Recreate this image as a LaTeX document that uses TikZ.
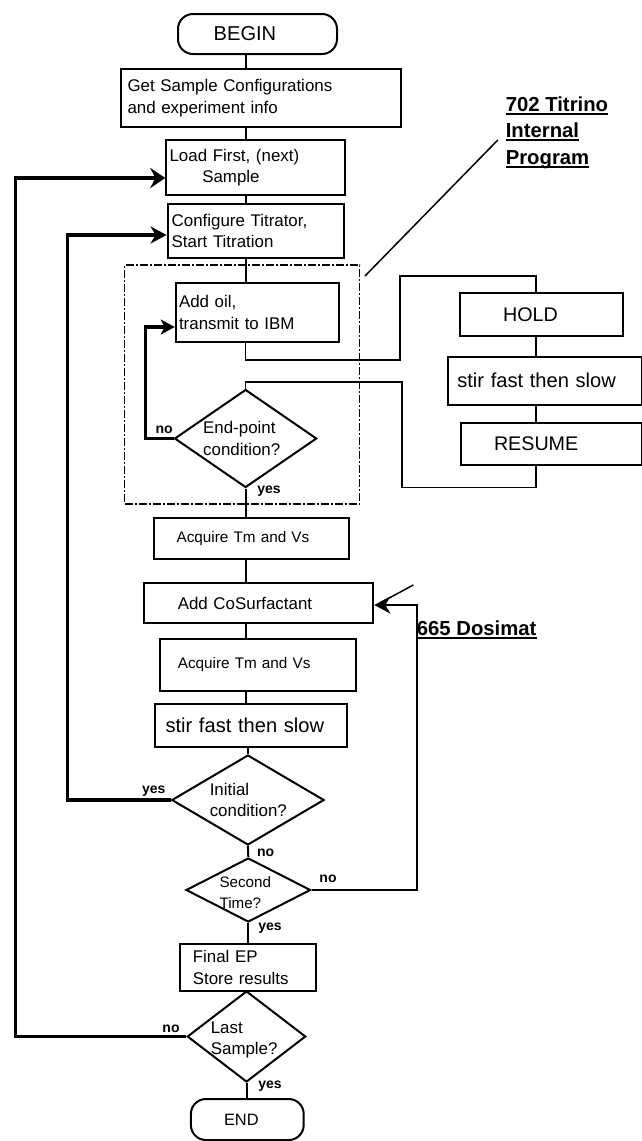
\documentclass[tikz,border=0pt]{standalone}
\usepackage{fontspec}
\setmainfont{Liberation Sans}
\usetikzlibrary{shapes.geometric,arrows.meta}
\newcommand\fmain{\fontsize{16.9}{21.5}\selectfont}
\newcommand\facq{\fontsize{15.3}{19}\selectfont}
\newcommand\fbig{\fontsize{20.1}{24}\selectfont}
\newcommand\frbox{\fontsize{19.7}{24}\selectfont}
\newcommand\fsec{\fontsize{15.2}{21}\selectfont}
\newcommand\fend{\fontsize{16.4}{20}\selectfont}
\newcommand\flab{\bfseries\fontsize{20.3}{24}\selectfont}
\newcommand\fyn{\bfseries\fontsize{14}{16}\selectfont}
\newcommand\ulx[1]{{\setbox0\hbox{#1}\rlap{\rule[-3.6pt]{\wd0}{2pt}}\box0}}
\begin{document}
\begin{tikzpicture}[x=1pt,y=-1pt,
  procbox/.style={draw,line width=2pt,rectangle,inner ysep=0pt,align=left,font=\fmain},
  termbox/.style={draw,line width=2pt,rectangle,rounded corners=15pt,inner ysep=0pt,align=left},
  decision/.style={draw,diamond,line width=2pt,inner sep=0pt},
  dlabel/.style={align=left,font=\fmain,inner sep=0pt},
  flow/.style={line width=2pt},
  thinline/.style={line width=1.6pt},
  loopline/.style={line width=3.2pt},
  ptr/.style={line width=1.5pt},
  yn/.style={font=\fyn,inner sep=0pt},
  grpframe/.style={draw,line width=1.4pt,dash pattern=on 8pt off 2pt on 2pt off 2pt,inner sep=0pt}]
\useasboundingbox (0,0) rectangle (642,1141);

\coordinate (ax) at (245.5,0);
\coordinate (rx) at (536,0);
\coordinate (c1) at (15.1,0);
\coordinate (c2) at (67.4,0);
\coordinate (c3) at (145.1,0);
\coordinate (c4) at (417,0);

% group frame
\node[grpframe,minimum width=234.9pt,minimum height=239pt] (grp) at (242.15,384.5) {};

% main column
\node[termbox,font=\fbig,minimum width=159pt,minimum height=40pt,inner xsep=35.7pt,text width=87.6pt] (begin) at (257.5,34) {BEGIN};
\node[procbox,minimum width=280.3pt,minimum height=58pt,inner xsep=6.9pt,text width=266.5pt] (get) at (260.75,98) {Get Sample Configurations\\and experiment info};
\node[procbox,minimum width=178.2pt,minimum height=55pt,inner xsep=3.3pt,text width=171.6pt] (load) at (255.4,167.5) {Load First, (next)\\\hspace*{32.7pt}Sample};
\node[procbox,minimum width=176.5pt,minimum height=54pt,inner xsep=4.1pt,text width=168.3pt] (conf) at (255.85,231) {Configure Titrator,\\Start Titration};
\node[procbox,minimum width=163.5pt,minimum height=59pt,inner xsep=3.3pt,text width=156.9pt] (addoil) at (257.5,312.5) {Add oil,\\transmit to IBM};
\node[decision,minimum width=142.2pt,minimum height=98pt,
  label={[dlabel,name=endptt,xshift=-3.9pt]center:End-point\\condition?}] (endpt) at (245.6,438.5) {};
\node[procbox,font=\facq,minimum width=195.3pt,minimum height=41pt,inner xsep=22.5pt,text width=150.3pt] (acq1) at (251.75,538.5) {Acquire Tm and Vs};
\node[procbox,minimum width=229pt,minimum height=40.6pt,inner xsep=33.5pt,text width=162pt] (addco) at (258.8,603) {Add CoSurfactant};
\node[procbox,font=\facq,minimum width=195.4pt,minimum height=52pt,inner xsep=17.6pt,text width=160.2pt] (acq2) at (257.9,665) {Acquire Tm and Vs};
\node[procbox,font=\fbig,minimum width=192.1pt,minimum height=43pt,inner xsep=10.2pt,text width=171.7pt] (stir2) at (251.35,725.5) {stir fast then slow};
\node[decision,minimum width=152.4pt,minimum height=90pt,
  label={[dlabel,name=initt,xshift=0.4pt]center:Initial\\condition?}] (init) at (247.9,800) {};
\node[decision,minimum width=124.6pt,minimum height=64pt,
  label={[dlabel,font=\fsec,name=secondt,xshift=-3pt,yshift=-2.5pt]center:Second\\Time?}] (second) at (248.3,890) {};
\node[procbox,minimum width=135.7pt,minimum height=47pt,inner xsep=12.7pt,text width=110.3pt] (final) at (248,967.5) {Final EP\\Store results};
\node[decision,minimum width=118.5pt,minimum height=91pt,
  label={[dlabel,name=lastt,xshift=-2.3pt,yshift=-3.5pt]center:Last\\Sample?}] (last) at (246.5,1036.5) {};
\node[termbox,font=\fend,minimum width=112.8pt,minimum height=41pt,inner xsep=33.1pt,text width=46.6pt] (end) at (247.3,1119.5) {END};

% right column (702 Titrino)
\node[procbox,font=\frbox,minimum width=163.3pt,minimum height=43.3pt,inner xsep=43pt,text width=77.3pt] (hold) at (541.7,314.3) {HOLD};
\node[procbox,font=\fbig,minimum width=194pt,minimum height=48.3pt,inner xsep=9.6pt,text width=174.8pt] (stirR) at (544.7,380.8) {stir fast then slow};
\node[procbox,font=\frbox,minimum width=181pt,minimum height=42.3pt,inner xsep=33.3pt,text width=114.4pt] (resume) at (551.2,443.8) {RESUME};

% labels
\node[font=\flab,anchor=base west,inner sep=0pt] (t1) at (505.6,111.7) {\ulx{702 Titrino}};
\node[font=\flab,anchor=base west,inner sep=0pt] (t2) at (505.6,137.7) {\ulx{Internal}};
\node[font=\flab,anchor=base west,inner sep=0pt] (t3) at (505.6,164) {\ulx{Program}};
\node[font=\flab,anchor=base west,inner sep=0pt] (dos) at (416.7,635) {\ulx{665 Dosimat}};

% main flow connectors
\draw[flow] (begin.south -| ax) -- (get.north -| ax);
\draw[flow] (get.south -| ax) -- (load.north -| ax);
\draw[flow] (load.south -| ax) -- (conf.north -| ax);
\draw[flow] (conf.south -| ax) -- (addoil.north -| ax);
\draw[flow] (endpt.south) -- (acq1.north -| endpt.south);
\draw[flow] (acq1.south -| ax) -- (addco.north -| ax);
\draw[flow] (addco.south -| ax) -- (acq2.north -| ax);
\draw[flow] (acq2.south -| ax) -- (stir2.north -| ax);
\draw[flow] (stir2.south -| init.north) -- (init.north);
\draw[flow] (init.south) -- (second.north);
\draw[flow] (second.south) -- (final.north -| second.south);
\draw[flow] (final.south -| last.north) -- (last.north);
\draw[flow] (last.south) -- (end.north -| last.south);

% titrino side path
\draw[thinline] (addoil.south -| ax) -- ++(0,17) -| (399.7,276) -| (hold.north -| rx);
\draw[thinline] (hold.south -| rx) -- (stirR.north -| rx);
\draw[thinline] (stirR.south -| rx) -- (resume.north -| rx);
\draw[thinline] (resume.south -| rx) -- ++(0,21.7) -| (401.8,382) -| (endpt.north);

% loop-back arrows
\coordinate (loadin) at ([yshift=-10.5pt]load.west);
\coordinate (confin) at ([yshift=-4pt]conf.west);
\coordinate (addin) at ([yshift=-14.5pt]addoil.west);
\coordinate (addcoin) at ([yshift=-2pt]addco.east);
\draw[loopline,-{Stealth[length=15pt,width=20pt,inset=5pt]}] (last.west) -| (c1 |- loadin) -- (loadin);
\draw[loopline,-{Stealth[length=16pt,width=17pt,inset=5pt]}] (init.west) -| (c2 |- confin) -- (confin);
\draw[loopline,-{Stealth[length=14pt,width=15pt,inset=4pt]}] (endpt.west) -| (c3 |- addin) -- (addin);
\draw[line width=2.7pt,-{Stealth[length=16pt,width=17pt,inset=5pt]}] (second.east) -| (c4 |- addcoin) -- (addcoin);

% pointer lines
\coordinate (p1a) at (365,276);
\coordinate (p1b) at (497.8,140);
\draw[ptr] (p1a) -- (p1b);
\coordinate (p2a) at (413.3,585);
\coordinate (p2b) at (380,603);
\draw[ptr] (p2a) -- (p2b);

% yes / no labels
\node[yn] (no1) at (164.1,430) {no};
\node[yn] (yes1) at (269.1,491) {yes};
\node[yn] (yes2) at (153.7,791) {yes};
\node[yn] (no2) at (265.6,853) {no};
\node[yn] (no3) at (328,879) {no};
\node[yn] (yes3) at (270.1,928) {yes};
\node[yn] (no4) at (171,1029) {no};
\node[yn] (yes4) at (270.1,1086) {yes};
\end{tikzpicture}
\end{document}
